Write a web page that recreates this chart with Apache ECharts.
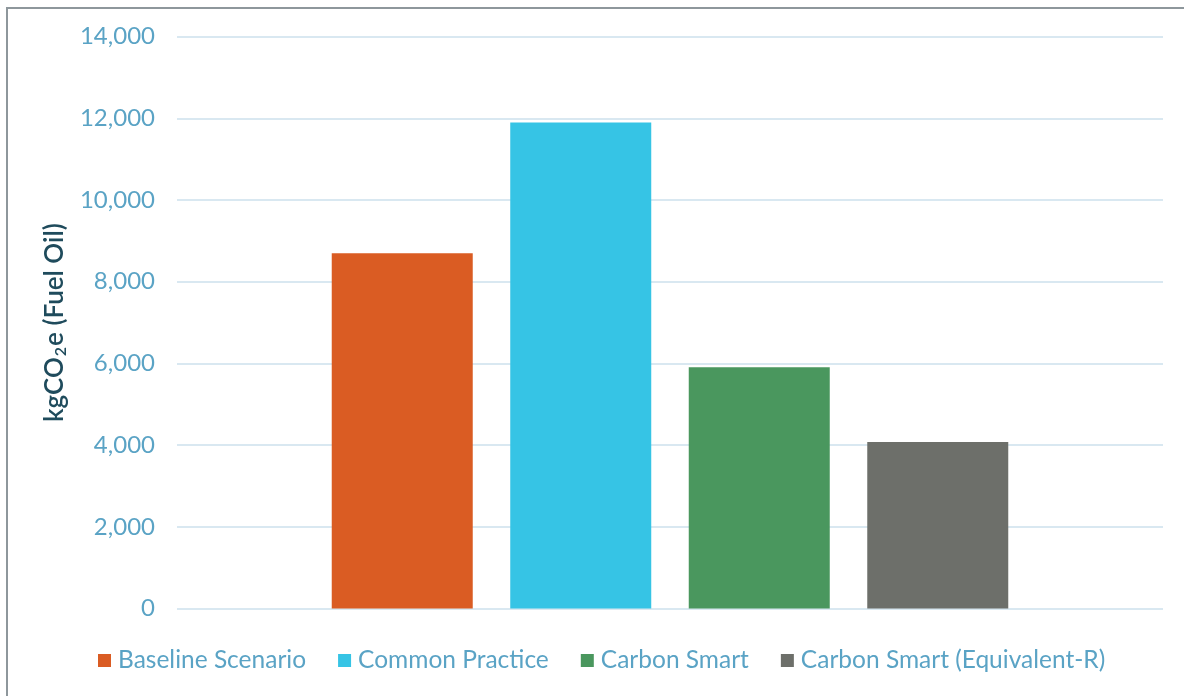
<!DOCTYPE html>
<html>
<head>
<meta charset="utf-8">
<script src="https://cdn.jsdelivr.net/npm/echarts@6/dist/echarts.min.js"></script>
<style>
  html, body { margin: 0; padding: 0; background: #ffffff; }
  #chart { width: 1184px; height: 696px; }
</style>
</head>
<body>
<div id="chart"></div>
<script>
// Fuel oil emissions by scenario (kgCO2e)
const categories = [''];
const seriesNames = ['Baseline Scenario', 'Common Practice', 'Carbon Smart', 'Carbon Smart (Equivalent-R)'];
const seriesValues = [8700, 11900, 5910, 4080];
const seriesColors = ['#DA5C23', '#36C4E5', '#4A975E', '#6D6F6A'];
const yTicks = { min: 0, max: 14000, interval: 2000 };

const labelColor = '#5AA3C5';
const fontFamily = 'Lato, "Open Sans", sans-serif';

const chart = echarts.init(document.getElementById('chart'), null, { renderer: 'canvas' });

const series = seriesNames.map((name, i) => ({
  name: name,
  type: 'bar',
  data: [seriesValues[i]],
  barWidth: 141,
  barGap: '26.6%',
  itemStyle: { color: seriesColors[i] },
  emphasis: { disabled: true }
}));

chart.setOption({
  animation: false,
  backgroundColor: '#ffffff',
  graphic: [
    { type: 'line', shape: { x1: 7, y1: 8, x2: 1184, y2: 8 }, style: { stroke: '#8E979C', lineWidth: 2 } },
    { type: 'line', shape: { x1: 7, y1: 7, x2: 7, y2: 696 }, style: { stroke: '#8E979C', lineWidth: 2 } }
  ],
  grid: { left: 177, right: 21, top: 36.6, bottom: 87.4, containLabel: false },
  legend: {
    left: 98,
    top: 648,
    padding: 0,
    itemWidth: 13,
    itemHeight: 13,
    itemGap: 32,
    icon: 'rect',
    textStyle: { color: labelColor, fontSize: 24.5, fontFamily: fontFamily, padding: [0, 0, 0, 2] },
    data: seriesNames
  },
  xAxis: {
    type: 'category',
    data: categories,
    axisLine: { show: false },
    axisTick: { show: false },
    axisLabel: { show: false }
  },
  yAxis: {
    type: 'value',
    min: yTicks.min,
    max: yTicks.max,
    interval: yTicks.interval,
    name: '{t|kgCO}{s|2}{t|e (Fuel Oil)}',
    nameLocation: 'middle',
    nameGap: 106,
    nameRotate: 90,
    nameTextStyle: {
      rich: {
        t: { color: '#1F4B5C', fontSize: 26, fontWeight: 600, fontFamily: fontFamily },
        s: { color: '#1F4B5C', fontSize: 16, fontWeight: 600, fontFamily: fontFamily, verticalAlign: 'bottom', padding: [12, 1, 0, 1] }
      }
    },
    axisLine: { show: false },
    axisTick: { show: false },
    axisLabel: {
      color: labelColor,
      fontSize: 24,
      fontFamily: fontFamily,
      margin: 22,
      formatter: v => v.toLocaleString('en-US')
    },
    splitLine: { lineStyle: { color: '#D9E8F1', width: 2 } }
  },
  series: series
});
</script>
</body>
</html>
